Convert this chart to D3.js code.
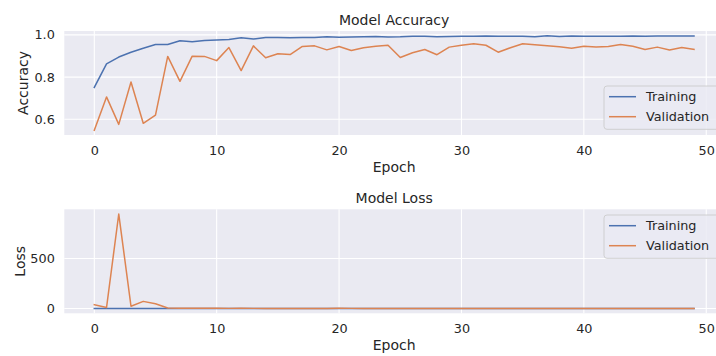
<!DOCTYPE html>
<html><head><meta charset="utf-8">
<script src="https://cdn.jsdelivr.net/npm/d3@7"></script>
<style>
body{margin:0;background:#fff;}
text{font-family:"DejaVu Sans",sans-serif;fill:#262626;}
</style></head>
<body><svg id="c" width="716" height="356"></svg>
<script>
const epochs = d3.range(0, 50);
const trainAcc = [0.751,0.863,0.895,0.918,0.937,0.954,0.954,0.972,0.968,0.973,0.976,0.978,0.986,0.980,
0.988,0.988,0.987,0.988,0.988,0.991,0.989,0.990,0.991,0.992,0.990,0.991,0.994,0.993,0.991,0.992,0.994,0.993,0.995,0.993,0.994,0.994,0.991,0.996,0.992,0.995,0.993,0.994,0.993,0.994,0.995,0.994,0.995,0.995,0.995,0.995];
const valAcc = [0.548,0.706,0.576,0.777,0.581,0.620,0.898,0.780,0.899,0.898,0.878,0.940,0.831,0.948,0.892,
0.911,0.907,0.945,0.948,0.929,0.945,0.926,0.939,0.946,0.951,0.893,0.915,0.931,0.906,0.942,0.951,0.958,0.951,0.918,0.939,0.958,0.953,0.948,0.944,0.937,0.946,0.942,0.945,0.954,0.946,0.931,0.942,0.928,0.940,0.931];
const trainLoss = [1.2,0.45,0.3,0.25,0.2,0.15,0.14,0.1,0.1,0.09,0.08,0.07,0.05,0.06,0.04,0.04,0.04,0.04,0.04,0.03,0.03,0.03,0.03,0.03,0.03,0.03,0.02,0.02,0.03,0.03,0.02,0.02,0.02,0.02,0.02,0.02,0.03,0.02,0.02,0.02,0.02,0.02,0.02,0.02,0.02,0.02,0.02,0.02,0.02,0.02];
const valLoss = [39,10,945,23,72,49,5,3,3,3,3,2,3,2,2,2,2,2,2,2,3,2,2,2,2,2,2,2,2,2,2,2,2,2,2,2,2,2,2,2,2,2,2,2,2,2,2,2,2,2];
const xTicks = [0,10,20,30,40,50];
const accTicks = [0.6,0.8,1.0];
const lossTicks = [0,500];
const seriesNames = ["Training","Validation"];
const colors = ["#4c72b0","#dd8452"];

const svg = d3.select("#c");
const L = 64.3, R = 724;
const fsTick = "12.8px", fsLab = "14px";

function panel(opt){
  const {top, bottom, data, yTicks, yFmt, title, ylabel, legendTop} = opt;
  const all = data.flat();
  const mn = d3.min(all), mx = d3.max(all), pad = (mx-mn)*0.05;
  const x = d3.scaleLinear().domain([-2.45, 51.45]).range([L, R]);
  const y = d3.scaleLinear().domain([mn-pad, mx+pad]).range([bottom, top]);
  const g = svg.append("g");
  g.append("rect").attr("x",L).attr("y",top).attr("width",R-L).attr("height",bottom-top).attr("fill","#eaeaf2");
  g.selectAll(".gx").data(xTicks).join("line").attr("x1",d=>x(d)).attr("x2",d=>x(d)).attr("y1",top).attr("y2",bottom).attr("stroke","#fff").attr("stroke-width",1.1);
  g.selectAll(".gy").data(yTicks).join("line").attr("y1",d=>y(d)).attr("y2",d=>y(d)).attr("x1",L).attr("x2",R).attr("stroke","#fff").attr("stroke-width",1.1);
  const ax = d3.axisBottom(x).tickValues(xTicks).tickSize(0).tickPadding(10.5);
  const gx = g.append("g").attr("transform",`translate(0,${bottom})`).call(ax);
  gx.select(".domain").remove();
  gx.selectAll("text").attr("font-size",fsTick).attr("fill","#262626").style("font-family","DejaVu Sans");
  const ay = d3.axisLeft(y).tickValues(yTicks).tickFormat(yFmt).tickSize(0).tickPadding(9.5);
  const gy = g.append("g").attr("transform",`translate(${L},0)`).call(ay);
  gy.select(".domain").remove();
  gy.selectAll("text").attr("font-size",fsTick).attr("fill","#262626").style("font-family","DejaVu Sans");
  const line = d3.line().x((d,i)=>x(epochs[i])).y(d=>y(d));
  data.forEach((s,k)=>{
    g.append("path").attr("d",line(s)).attr("fill","none").attr("stroke",colors[k]).attr("stroke-width",1.5).attr("stroke-linejoin","round").attr("stroke-linecap","square");
  });
  g.append("text").attr("x",(L+R)/2).attr("y",top-6).attr("text-anchor","middle").attr("font-size",fsLab).text(title);
  g.append("text").attr("x",(L+R)/2).attr("y",bottom+37).attr("text-anchor","middle").attr("font-size",fsLab).text("Epoch");
  g.append("text").attr("transform",`translate(${opt.ylx},${(top+bottom)/2}) rotate(-90)`).attr("text-anchor","middle").attr("font-size",fsLab).text(ylabel);
  const lg = g.append("g");
  lg.append("rect").attr("x",604).attr("y",legendTop).attr("width",130).attr("height",43.3).attr("rx",3).attr("fill","#eaeaf2").attr("fill-opacity",0.8).attr("stroke","#cccccc").attr("stroke-width",0.9);
  seriesNames.forEach((n,k)=>{
    const cy = legendTop+10.7+k*20;
    lg.append("line").attr("x1",609).attr("x2",636).attr("y1",cy).attr("y2",cy).attr("stroke",colors[k]).attr("stroke-width",1.5);
    lg.append("text").attr("x",646).attr("y",cy+4.6).attr("font-size",fsTick).text(n);
  });
}
panel({top:31,bottom:135,data:[trainAcc,valAcc],yTicks:accTicks,yFmt:d3.format(".1f"),title:"Model Accuracy",ylabel:"Accuracy",legendTop:86,ylx:27.5});
panel({top:209.3,bottom:313.3,data:[trainLoss,valLoss],yTicks:lossTicks,yFmt:d3.format("d"),title:"Model Loss",ylabel:"Loss",legendTop:215,ylx:24.5});
</script></body></html>
